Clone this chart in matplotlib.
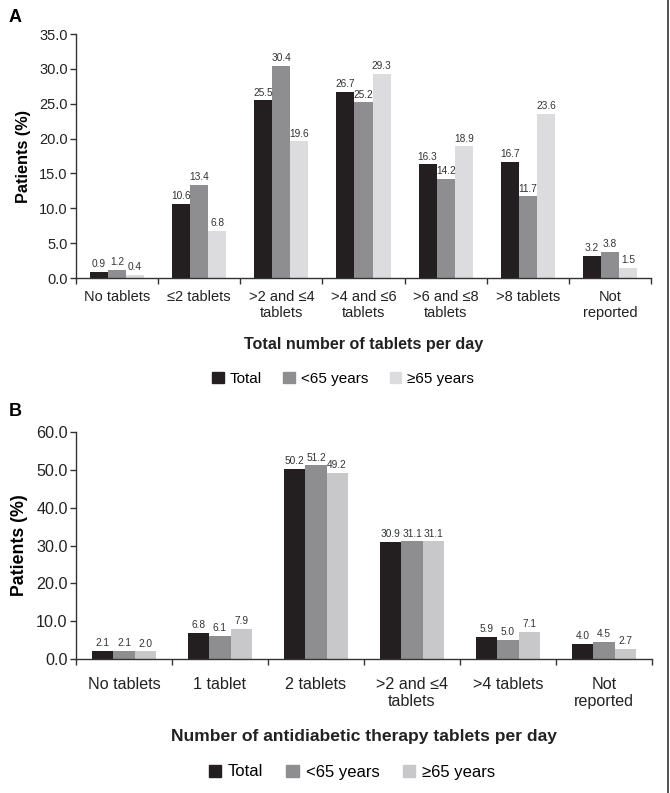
import numpy as np
import matplotlib.pyplot as plt
from matplotlib.patches import Patch
from matplotlib.lines import Line2D

plt.rcParams['font.family'] = ['Liberation Sans', 'DejaVu Sans']

# Panel A data
cats_a = ["No tablets", "≤2 tablets", ">2 and ≤4\ntablets", ">4 and ≤6\ntablets",
          ">6 and ≤8\ntablets", ">8 tablets", "Not\nreported"]
total_a = [0.9, 10.6, 25.5, 26.7, 16.3, 16.7, 3.2]
under65_a = [1.2, 13.4, 30.4, 25.2, 14.2, 11.7, 3.8]
over65_a = [0.4, 6.8, 19.6, 29.3, 18.9, 23.6, 1.5]

# Panel B data
cats_b = ["No tablets", "1 tablet", "2 tablets", ">2 and ≤4\ntablets", ">4 tablets",
          "Not\nreported"]
total_b = [2.1, 6.8, 50.2, 30.9, 5.9, 4.0]
under65_b = [2.1, 6.1, 51.2, 31.1, 5.0, 4.5]
over65_b = [2.0, 7.9, 49.2, 31.1, 7.1, 2.7]

series_names = ["Total", "<65 years", "≥65 years"]
c_black = "#231f20"
c_mid = "#8e8e90"


def draw_panel(ax, cats, series, colors, ymax, ystep, xlabel, fs, tickpad, labpad, xfs):
    n = len(cats)
    x = np.arange(n)
    w = 0.22
    for i, (vals, col) in enumerate(zip(series, colors)):
        pos = x + (i - 1) * w
        ax.bar(pos, vals, width=w, color=col, edgecolor='none', zorder=2)
        for xp, v in zip(pos, vals):
            ax.annotate(f"{v:.1f}", (xp, v), xytext=(0, 2), textcoords='offset points',
                        ha='center', va='bottom', fontsize=7.3, color='#333333')
    ax.set_xlim(-0.5, n - 0.5)
    ax.set_ylim(0, ymax)
    yt = np.arange(0, ymax + 0.01, ystep)
    ax.set_yticks(yt)
    ax.set_yticklabels([f"{t:.1f}" for t in yt], fontsize=fs, color='#222222')
    ax.set_xticks(np.arange(-0.5, n, 1.0))
    ax.set_xticklabels([])
    ax.set_xticks(x, minor=True)
    ax.set_xticklabels(cats, minor=True, fontsize=fs, color='#222222', linespacing=1.2)
    ax.tick_params(axis='x', which='minor', length=0, pad=tickpad)
    ax.tick_params(axis='x', which='major', length=4, width=1, color='#333333')
    ax.tick_params(axis='y', length=4, width=1, color='#333333', pad=2)
    for s in ['top', 'right']:
        ax.spines[s].set_visible(False)
    for s in ['left', 'bottom']:
        ax.spines[s].set_color('#333333')
        ax.spines[s].set_linewidth(1)
    ax.set_ylabel("Patients (%)", fontsize=fs + 1.2, fontweight='bold', labelpad=6)
    ax.set_xlabel(xlabel, fontsize=xfs, fontweight='bold', labelpad=labpad,
                  color='#222222')


fig = plt.figure(figsize=(6.7, 7.93), dpi=100)

ax1 = fig.add_axes([0.1134, 0.6494, 0.8582, 0.3076])
draw_panel(ax1, cats_a, [total_a, under65_a, over65_a], [c_black, c_mid, "#dcdcde"],
           35, 5, "Total number of tablets per day", 10.5, 8.5, 12, 11.6)

ax2 = fig.add_axes([0.1134, 0.169, 0.8597, 0.2862])
draw_panel(ax2, cats_b, [total_b, under65_b, over65_b], [c_black, c_mid, "#c8c8ca"],
           60, 10, "Number of antidiabetic therapy tablets per day", 11.6, 13, 14, 12.6)

for cx, y, light, fsz in [(0.512, 1 - 379 / 793, "#dcdcde", 11),
                          (0.525, 1 - 772 / 793, "#c8c8ca", 12)]:
    handles = [Patch(color=c) for c in [c_black, c_mid, light]]
    fig.legend(handles, series_names, loc='center', bbox_to_anchor=(cx, y), ncol=3,
               frameon=False, fontsize=fsz, handlelength=0.75, handleheight=0.75,
               handletextpad=0.4, columnspacing=1.4)

fig.text(0.013, 1 - 17 / 793, "A", fontsize=13, fontweight='bold', va='center')
fig.text(0.013, 1 - 412 / 793, "B", fontsize=13, fontweight='bold', va='center')

# right border of the original figure
fig.add_artist(Line2D([0.997, 0.997], [0, 1], transform=fig.transFigure, color='#333333',
                      linewidth=1.2))

fig.savefig("out.png", dpi=100)
